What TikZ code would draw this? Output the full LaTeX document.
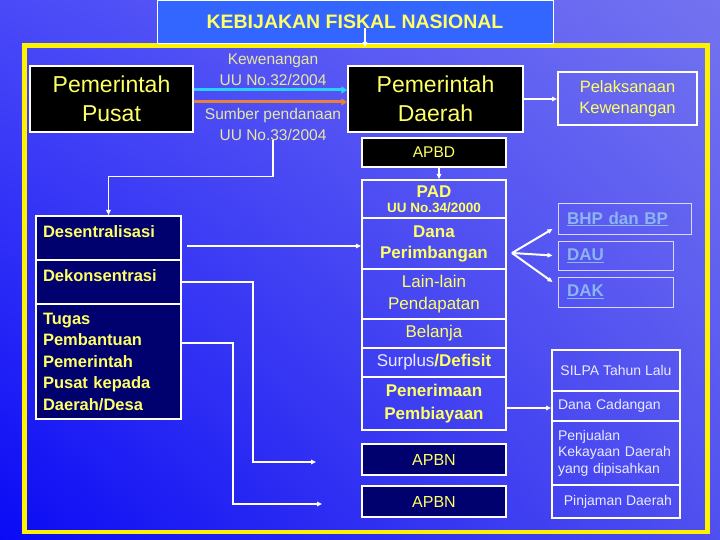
\documentclass[tikz,border=0pt]{standalone}
\usepackage{fontspec}
\setmainfont{Liberation Sans}
\usetikzlibrary{arrows.meta,shadings}
\definecolor{ylw}{RGB}{255,255,102}
\definecolor{paleylw}{RGB}{232,232,160}
\definecolor{navy}{RGB}{0,0,110}
\definecolor{titleblue}{RGB}{51,102,255}
\definecolor{lightblue}{RGB}{140,180,240}
\definecolor{cyanline}{RGB}{40,210,255}
\definecolor{orangeline}{RGB}{230,130,60}
\definecolor{paletext}{RGB}{235,235,255}
\definecolor{bgul}{RGB}{74,74,248}
\definecolor{bgur}{RGB}{115,115,240}
\definecolor{bgll}{RGB}{10,10,245}
\definecolor{bglr}{RGB}{80,80,240}
\newcommand{\fs}[2]{\fontsize{#1}{#2}\selectfont}

\begin{document}
\begin{tikzpicture}[x=1pt, y=-1pt, >={Triangle[length=5pt,width=4.5pt]},
  box/.style={draw=white, line width=1.5pt, inner sep=0pt, align=center, text=ylw},
  black box/.style={box, fill=black},
  navy box/.style={box, fill=navy, line width=2pt},
  stack box/.style={box, line width=2pt, minimum width=144pt},
  side box/.style={box, line width=2pt, minimum width=128pt, text=paletext, font=\fs{14}{16.5}},
  link box/.style={draw=white!85!blue, line width=1pt, inner sep=0pt, align=left,
    text=lightblue, font=\bfseries\fs{17}{20}},
  top text/.style={text height=12pt, text depth=14pt},
  pale text/.style={text=paleylw, font=\fs{15.5}{21}, align=center, inner sep=0pt},
  wline/.style={draw=white, line width=1.4pt},
  fat line/.style={line width=3pt, -{Triangle[length=6pt,width=7pt]}}]

% background and frame
\shade[upper left=bgul, upper right=bgur, lower left=bgll, lower right=bglr] (0,0) rectangle (720,540);
\useasboundingbox (0,0) rectangle (720,540);
\draw[yellow, line width=4.5pt] (24.5,45.5) rectangle (707.5,532);

\node[box, fill=titleblue, line width=0.8pt, minimum width=396pt, minimum height=43pt,
  font=\bfseries\fs{19.5}{22}] (title) at (355,21.5) {KEBIJAKAN FISKAL NASIONAL};

% top row
\node[black box, minimum width=163pt, minimum height=66pt, font=\fs{23}{29}] (pusat) at (111.5,99) {Pemerintah\\Pusat};
\node[black box, minimum width=175pt, minimum height=66pt, font=\fs{23}{29}] (daerah) at (435.5,99) {Pemerintah\\Daerah};
\node[box, line width=2pt, minimum width=139pt, minimum height=53pt, font=\fs{16.5}{21}] (pelak) at (627.5,98.5) {Pelaksanaan\\Kewenangan};
\node[black box, minimum width=144pt, minimum height=29pt, font=\fs{15.5}{18}] (apbd) at (434,152.5) {APBD};
\node[pale text] (kew) at (273,70) {Kewenangan\\UU No.32/2004};
\node[pale text] (sumber) at (273,124) {Sumber pendanaan\\UU No.33/2004};

% left stack
\node[navy box, minimum width=145pt, minimum height=44pt, text width=131pt, align=left, top text,
  font=\bfseries\fs{16.5}{21.5}] (desen) at (108.5,238) {Desentralisasi};
\node[navy box, minimum width=145pt, minimum height=44pt, text width=131pt, align=left, top text,
  font=\bfseries\fs{16.5}{21.5}] (dekon) at (108.5,282) {Dekonsentrasi};
\node[navy box, minimum width=145pt, minimum height=115pt, text width=131pt, align=left,
  font=\bfseries\fs{16.5}{21.5}] (tugas) at (108.5,361.5) {Tugas\\Pembantuan\\Pemerintah\\Pusat kepada\\Daerah/Desa};

% middle stack
\node[stack box, minimum height=38pt, font=\bfseries\fs{17}{15}] (pad) at (434,199) {PAD\\{\fs{13.5}{15}UU No.34/2000}};
\node[stack box, minimum height=51pt, font=\bfseries\fs{17}{21}] (dana) at (434,243.5) {Dana\\Perimbangan};
\node[stack box, minimum height=50pt, font=\fs{17}{22}] (lain) at (434,294) {Lain-lain\\Pendapatan};
\node[stack box, minimum height=29pt, font=\fs{17}{20}] (belanja) at (434,333.5) {Belanja};
\node[stack box, minimum height=29pt, font=\fs{17}{20}] (surplus) at (434,362.5) {\textcolor{paletext}{Surplus}\textbf{/Defisit}};
\node[stack box, minimum height=53pt, font=\bfseries\fs{17}{22.5}] (pener) at (434,403.5) {Penerimaan\\Pembiayaan};
\node[navy box, minimum width=144pt, minimum height=31pt, font=\fs{16}{18}] (apbn1) at (434,459.5) {APBN};
\node[navy box, minimum width=144pt, minimum height=31pt, font=\fs{16}{18}] (apbn2) at (434,501.5) {APBN};

% transfer boxes
\node[link box, minimum width=133pt, minimum height=30pt, text width=115pt] (bhp) at (624.5,219) {\underline{BHP dan BP}};
\node[link box, minimum width=115pt, minimum height=29pt, text width=97pt] (dau) at (615.5,255.5) {\underline{DAU}};
\node[link box, minimum width=115pt, minimum height=30pt, text width=97pt] (dak) at (615.5,292) {\underline{DAK}};

% financing stack
\node[side box, minimum height=41pt] (silpa) at (616,370.5) {SILPA Tahun Lalu};
\node[side box, minimum height=30pt, text width=116pt, align=left] (cadangan) at (616,406) {Dana Cadangan};
\node[side box, minimum height=64pt, text width=116pt, align=left] (jual) at (616,453) {Penjualan\\Kekayaan Daerah\\yang dipisahkan};
\node[side box, minimum height=33pt] (pinjam) at (616,501.5) {\ Pinjaman Daerah};

% connectors
\coordinate (frametop) at (365,47);
\draw[wline,->] ([xshift=10pt,yshift=15pt]title.south) -- (frametop);
\draw[cyanline, fat line] ([yshift=9pt]pusat.east) -- ([yshift=9pt]daerah.west);
\draw[orangeline, fat line] ([yshift=-3pt]pusat.east) -- ([yshift=-3pt]daerah.west);
\draw[wline,->] (daerah.east) -- (daerah.east -| pelak.west);
\draw[wline,->] ([xshift=5pt]apbd.south) -- ([xshift=5pt]pad.north);
\draw[wline,->] (sumber.south) -- ++(0,36) -| (desen.north);
\coordinate (d1) at ([xshift=5pt,yshift=-8pt]desen.east);
\draw[wline,->] (d1) -- (d1 -| dana.west);
\draw[wline,->] (dekon.east) -- ++(71,0) |- ([xshift=-45pt,yshift=-2.5pt]apbn1.west);
\draw[wline,->] ([yshift=18.5pt]tugas.east) -- ++(51,0) |- ([xshift=-39pt,yshift=-2.5pt]apbn2.west);
\coordinate (dp) at ([xshift=5pt,yshift=-9.5pt]dana.east);
\draw[wline, line width=2pt,->] (dp) -- ([xshift=-5pt,yshift=-10pt]bhp.west);
\draw[wline, line width=2pt,->] (dp) -- ([xshift=-5pt]dau.west);
\draw[wline, line width=2pt,->] (dp) -- ([xshift=-5pt,yshift=10pt]dak.west);
\coordinate (p1) at ([yshift=-4.5pt]pener.east);
\draw[wline,->] (p1) -- (p1 -| silpa.west);
\end{tikzpicture}
\end{document}
